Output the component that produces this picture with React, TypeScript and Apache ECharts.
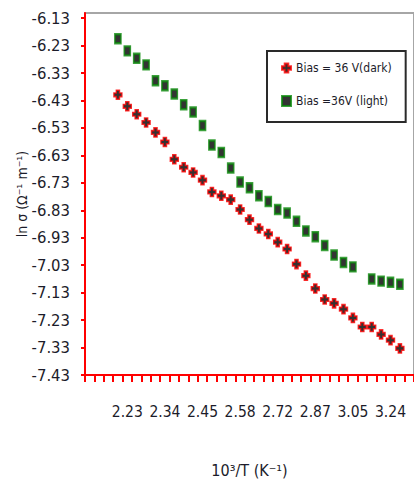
import React, { useEffect, useRef } from "react";
import * as echarts from "echarts";

const CATEGORY_COUNT = 35;
const xTickLabels = ["2.23", "2.34", "2.45", "2.58", "2.72", "2.87", "3.05", "3.24"];
const xTickEvery = 4;

const yTickValues = [-7.43, -7.33, -7.23, -7.13, -7.03, -6.93, -6.83, -6.73, -6.63, -6.53, -6.43, -6.33, -6.23, -6.13];

const darkValues: (number | null)[] = [
  null, null, null,
  -6.409, -6.451, -6.48, -6.51, -6.546, -6.581, -6.644, -6.673, -6.692, -6.72,
  -6.763, -6.777, -6.791, -6.827, -6.864, -6.896, -6.916, -6.946, -6.971, -7.026,
  -7.068, -7.115, -7.155, -7.169, -7.19, -7.222, -7.255, -7.255, -7.282, -7.303, -7.333,
  null,
];

const lightValues: (number | null)[] = [
  null, null, null,
  -6.205, -6.249, -6.276, -6.3, -6.358, -6.376, -6.406, -6.445, -6.472, -6.521,
  -6.592, -6.619, -6.676, -6.727, -6.748, -6.777, -6.798, -6.827, -6.84, -6.87,
  -6.905, -6.926, -6.958, -6.993, -7.02, -7.036, null, -7.08, -7.088, -7.092, -7.099,
  null,
];

const darkName = "Bias = 36 V(dark)";
const lightName = "Bias =36V (light)";

const FONT = '"Liberation Sans Narrow", "Arial Narrow", "DejaVu Sans Condensed", sans-serif';
const TEXT_COLOR = "#1c1c2a";
const CROSS = "path://M3,0 L7,0 L7,3 L10,3 L10,7 L7,7 L7,10 L3,10 L3,7 L0,7 L0,3 L3,3 Z";

export default function App() {
  const ref = useRef<HTMLDivElement>(null);
  useEffect(() => {
    if (!ref.current) return;
    const chart = echarts.init(ref.current, undefined, { renderer: "svg" });
    const categories = Array.from({ length: CATEGORY_COUNT }, (_, i) =>
      i > 0 && i % xTickEvery === 0 && xTickLabels[i / xTickEvery - 1] !== undefined
        ? xTickLabels[i / xTickEvery - 1]
        : ""
    );
    chart.setOption({
      animation: false,
      backgroundColor: "#ffffff",
      grid: {
        left: 85,
        top: 13,
        right: -2,
        bottom: 100,
        show: true,
        borderColor: "#a6a6a6",
        borderWidth: 2,
      },
      legend: {
        orient: "vertical",
        left: 267,
        top: 51,
        padding: [11, 14, 15, 14],
        itemGap: 21,
        itemWidth: 9,
        itemHeight: 10,
        borderColor: "#2a2a2a",
        borderWidth: 2,
        backgroundColor: "#ffffff",
        textStyle: { fontFamily: FONT, fontSize: 12, color: TEXT_COLOR },
        data: [darkName, lightName],
      },
      xAxis: {
        type: "category",
        data: categories,
        boundaryGap: true,
        name: "10³/T (K⁻¹)",
        nameLocation: "middle",
        nameGap: 87,
        nameTextStyle: { fontFamily: FONT, fontSize: 16, color: TEXT_COLOR },
        axisLine: { lineStyle: { color: "#ff0000", width: 2 } },
        axisTick: { show: true, interval: 0, length: 7, lineStyle: { color: "#ff0000", width: 2 } },
        axisLabel: {
          interval: 0,
          margin: 29,
          fontFamily: FONT,
          fontSize: 15.5,
          color: TEXT_COLOR,
        },
        splitLine: { show: false },
      },
      yAxis: {
        type: "value",
        min: -7.43,
        max: -6.111,
        name: "ln σ (Ω⁻¹ m⁻¹)",
        nameLocation: "middle",
        nameGap: 56,
        nameMoveOverlap: false,
        nameRotate: 90,
        nameTextStyle: { fontFamily: FONT, fontSize: 14, color: TEXT_COLOR },
        axisLine: { show: true, lineStyle: { color: "#ff0000", width: 2 } },
        axisTick: { show: true, length: 4, customValues: yTickValues, lineStyle: { color: "#ff0000", width: 2 } },
        axisLabel: {
          customValues: yTickValues,
          margin: 15,
          fontFamily: FONT,
          fontSize: 16.5,
          color: TEXT_COLOR,
          formatter: (v: number) => v.toFixed(2),
        },
        splitLine: { show: false },
      },
      series: [
        {
          name: darkName,
          type: "scatter",
          data: darkValues,
          symbol: CROSS,
          symbolSize: [8, 9],
          itemStyle: { color: "#000000", borderColor: "#ff0000", borderWidth: 1.5 },
        },
        {
          name: lightName,
          type: "scatter",
          data: lightValues,
          symbol: "rect",
          symbolSize: [6, 9],
          itemStyle: { color: "#000000", borderColor: "#0a8a0a", borderWidth: 2 },
        },
      ],
    });
    return () => chart.dispose();
  }, []);
  return (
    <div
      ref={ref}
      style={{ position: "fixed", left: 0, top: 0, width: 414, height: 483, background: "#fff" }}
    />
  );
}
